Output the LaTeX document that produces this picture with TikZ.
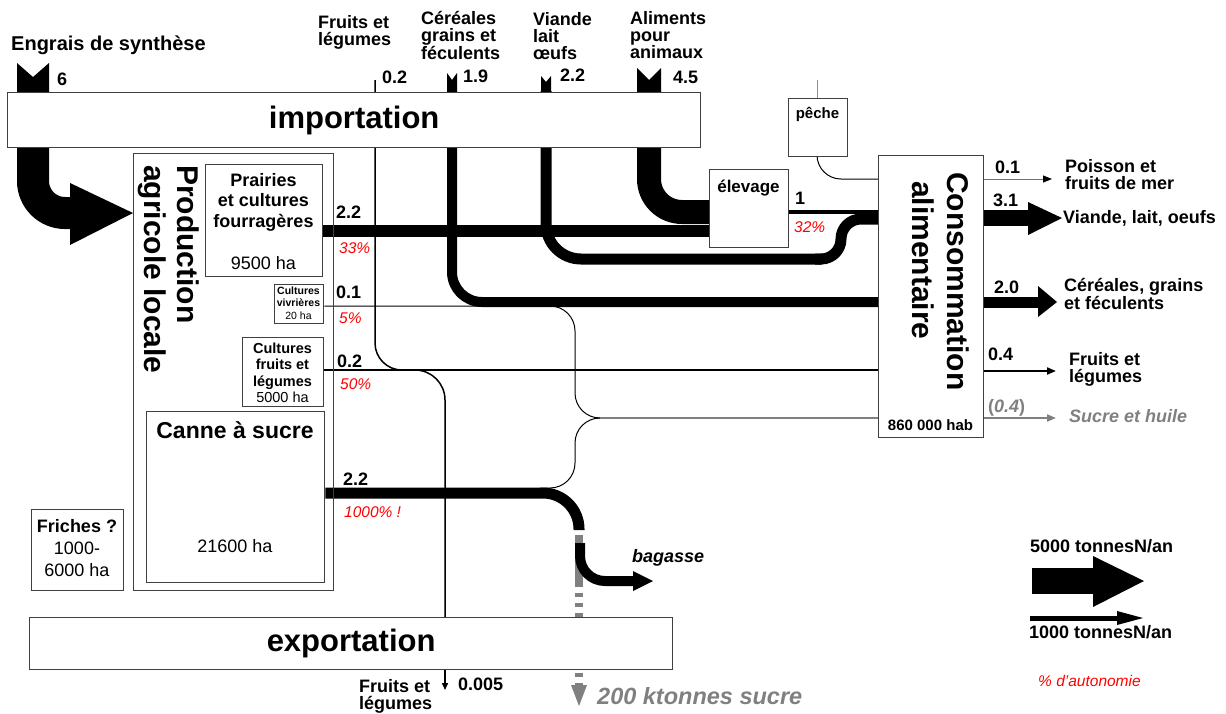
\documentclass[tikz,border=0pt]{standalone}
\usepackage{fontspec}
\setmainfont{Liberation Sans}
\usetikzlibrary{arrows.meta}
\pgfdeclarelayer{bg}
\pgfsetlayers{bg,main}
\newcommand\myfs[2]{\fontsize{#1}{#2}\selectfont}
\definecolor{gr}{RGB}{128,128,128}
\definecolor{bluel}{RGB}{110,140,220}
\begin{document}
\begin{tikzpicture}[x=1pt,y=-1pt,
  box/.style={draw=black!75, line width=1.3pt, fill=white, inner sep=0pt, anchor=north west},
  txt/.style={inner sep=0pt},
  lb/.style={txt, anchor=base west, font=\bfseries\myfs{18}{18}},
  ml/.style={txt, anchor=north west, align=left, font=\bfseries\myfs{18}{17}},
  pct/.style={txt, anchor=base west, text=red, font=\itshape\myfs{15.5}{15.5}},
  head/.style={fill=black},
  thinarrow/.style={-{Triangle[length=9pt,width=7pt]}}
]
\useasboundingbox (0,0) rectangle (1226,713);

% ---------- boxes
\node[box, minimum width=200pt, minimum height=437pt, fill=none] (prod) at (133,153) {};
\node[box, minimum width=117pt, minimum height=112pt] (prai) at (205,164) {};
\node[box, minimum width=49pt, minimum height=39pt] (vivr) at (274,284) {};
\node[box, minimum width=81pt, minimum height=69pt] (cfl) at (242,337) {};
\node[box, minimum width=178pt, minimum height=171pt] (canne) at (146,411) {};
\node[box, minimum width=92pt, minimum height=81pt] (fri) at (31,509) {};
\node[box, minimum width=79pt, minimum height=78pt] (elev) at (709,169) {};
\node[box, minimum width=59pt, minimum height=58pt] (peche) at (788,98) {};
\node[box, minimum width=105pt, minimum height=282pt] (conso) at (878,155) {};
\node[box, minimum width=693pt, minimum height=55pt] (imp) at (7,92) {};
\node[box, minimum width=643pt, minimum height=52pt] (exp) at (29,617) {};

% ---------- flows
\begin{pgfonlayer}{bg}
% engrais
\fill (17,63) -- (33,77) -- (49,63) -- (49,92) -- (17,92) -- cycle;
\draw[line width=32pt, rounded corners=32pt] (33,91) -- (33,213) -- (71,213);
\fill (70,183) -- (prod.west |- 0,213) -- (70,245) -- cycle;
% cereales
\fill (447,73) -- (452,80) -- (457,73) -- (457,92) -- (447,92) -- cycle;
\draw[line width=10pt, rounded corners=30pt] (452,91) -- (452,302) -- (conso.west |- 0,302);
% viande
\fill (541,76) -- (546,82) -- (551,76) -- (551,92) -- (541,92) -- cycle;
\draw[line width=11pt, rounded corners=35pt] (546,91) -- (546,259) -- (822,259);
\draw[line width=11pt, rounded corners=20pt] (815,259) -- (841,259) -- (841,219) -- (conso.west |- 0,219);
% aliments
\fill (637,68) -- (649,80) -- (661,68) -- (661,92) -- (637,92) -- cycle;
\draw[line width=24pt, rounded corners=33pt] (649,91) -- (649,212) -- (elev.west |- 0,212);
% prairies
\draw[line width=12pt] (prai.east |- 0,231) -- (elev.west |- 0,231);
% elevage out
\draw[line width=4pt] (elev.east |- 0,212) -- (conso.west |- 0,212);
% fruits
\draw[line width=1.5pt, rounded corners=27pt] (375,80) -- (375,370) -- (420,370);
\draw[line width=2pt] (cfl.east |- 0,370) -- (conso.west |- 0,370);
\draw[line width=1.5pt, rounded corners=30pt] (405,370) -- (445,370) -- (445,640);
\draw[line width=1.5pt, -{Triangle[length=7pt,width=6pt]}] (exp.south -| 445,0) -- (445,690);
% vivrieres + canne thin branch
\draw[line width=1pt, rounded corners=25pt] (vivr.east |- 0,306) -- (575,306) -- (575,418) -- (605,418);
\draw[line width=1pt, rounded corners=25pt] (540,488) -- (575,488) -- (575,418) -- (605,418);
\draw[line width=2pt, gr] (600,418) -- (conso.west |- 0,418);
% peche
\draw[line width=1pt, bluel] (817,80) -- (peche.north -| 817,0);
\draw[line width=1pt, rounded corners=24pt] (peche.south -| 817,0) -- (817,179) -- (conso.west |- 0,179);
% canne band
\draw[line width=11pt, rounded corners=36pt] (canne.east |- 0,493) -- (579,493) -- (579,530);
% sucre
\draw[line width=8pt, gr] (579,535) -- (579,583);
\draw[line width=8pt, gr, dash pattern=on 4pt off 6pt] (579,583) -- (579,686);
\fill[gr] (571,685) -- (587,685) -- (579,706) -- cycle;
% bagasse
\draw[line width=10pt, rounded corners=25pt] (580,543) -- (580,581) -- (634,581);
\fill (633,571) -- (653,581) -- (633,591) -- cycle;
% outputs
\draw[line width=1pt, black!55, -{Triangle[length=9pt,width=7pt,black]}] (conso.east |- 0,179) -- (1052,179);
\draw[line width=16pt] (conso.east |- 0,218) -- (1029,218);
\fill (1028,202) -- (1062,218) -- (1028,235) -- cycle;
\draw[line width=11pt] (conso.east |- 0,302) -- (1039,302);
\fill (1038,286) -- (1057,302) -- (1038,317) -- cycle;
\draw[line width=2pt, thinarrow] (conso.east |- 0,371) -- (1056,371);
\draw[line width=2pt, gr, thinarrow] (conso.east |- 0,418) -- (1056,418);
% legend
\draw[line width=26pt] (1032,581) -- (1094,581);
\fill (1093,556) -- (1144,581) -- (1093,607) -- cycle;
\draw[line width=5pt] (1030,618) -- (1118,618);
\fill (1117,611) -- (1143,618) -- (1117,625) -- cycle;
\end{pgfonlayer}

% ---------- texts
\node[txt, font=\bfseries\myfs{31}{31}] (impt) at (imp.center) {importation};
\node[txt, font=\bfseries\myfs{31}{31}] (expt) at (exp.center) {exportation};
\node[txt, rotate=-90, anchor=north west, align=left, font=\bfseries\myfs{30}{33}] (prodt) at (199,165) {Production\\agricole locale};
\node[txt, rotate=-90, anchor=north west, align=left, font=\bfseries\myfs{30}{35}] (consot) at (969,172) {Consommation\\\hspace*{9pt}alimentaire};
\node[txt, anchor=north, align=center, font=\bfseries\myfs{18}{20.5}] (prait) at (263.5,173) {Prairies\\et cultures\\fourragères};
\node[txt, anchor=base, font=\myfs{18}{18}] (praih) at (263.5,269) {9500 ha};
\node[txt, anchor=north, align=center, font=\bfseries\myfs{10.5}{12.5}] (vivrt) at (298.5,286.5) {Cultures\\vivrières};
\node[txt, anchor=base, font=\myfs{10.5}{10.5}] (vivrh) at (298.5,319) {20 ha};
\node[txt, anchor=north, align=center, font=\bfseries\myfs{14.5}{16.5}] (cflt) at (282.5,342.5) {Cultures\\fruits et\\légumes};
\node[txt, anchor=base, font=\myfs{14.5}{14.5}] (cflh) at (282.5,402) {5000 ha};
\node[txt, anchor=base, font=\bfseries\myfs{23}{23}] (cannet) at (235,438) {Canne à sucre};
\node[txt, anchor=base, font=\myfs{18}{18}] (canneh) at (235,552) {21600 ha};
\node[txt, anchor=north, align=center, font=\myfs{18}{22}] (frit) at (77,519) {\textbf{Friches ?}\\1000-\\6000 ha};
\node[txt, anchor=base, font=\bfseries\myfs{17}{17}] (elevt) at (748.5,192) {élevage};
\node[txt, anchor=base, font=\bfseries\myfs{15}{15}] (pechet) at (817.5,118) {pêche};
\node[txt, anchor=base, font=\bfseries\myfs{15}{15}] (habt) at (930.5,430) {860 000 hab};

% top labels
\node[txt, anchor=base west, font=\bfseries\myfs{20}{20}] (engt) at (11,50) {Engrais de synthèse};
\node[ml] (t1) at (318,15) {Fruits et\\légumes};
\node[ml] (t2) at (421,11.5) {Céréales\\grains et\\féculents};
\node[ml] (t3) at (533,12) {Viande\\lait\\œufs};
\node[ml] (t4) at (630,11) {Aliments\\pour\\animaux};
\node[lb] (n1) at (57,85) {6};
\node[lb] (n2) at (382,83) {0.2};
\node[lb] (n3) at (463,82) {1.9};
\node[lb] (n4) at (560,81) {2.2};
\node[lb] (n5) at (673,83) {4.5};

% flow labels
\node[lb] (v1) at (336,218) {2.2};
\node[pct] (p1) at (339,253) {33\%};
\node[lb] (v2) at (336,298) {0.1};
\node[pct] (p2) at (339,323) {5\%};
\node[lb] (v3) at (337,367) {0.2};
\node[pct] (p3) at (340,389) {50\%};
\node[lb] (v4) at (343,485) {2.2};
\node[pct] (p4) at (344,517) {1000\% !};
\node[lb] (v5) at (795,204) {1};
\node[pct] (p5) at (794,232) {32\%};
\node[lb] (o1) at (995,173) {0.1};
\node[lb] (o2) at (993,206) {3.1};
\node[lb] (o3) at (994,293) {2.0};
\node[lb] (o4) at (988,360) {0.4};
\node[lb, text=gr] (o5) at (988,412) {(\textit{0.4})};
\node[ml] (r1) at (1065,159) {Poisson et\\fruits de mer};
\node[lb] (r2) at (1063,223) {Viande, lait, oeufs};
\node[ml] (r3) at (1064,278.5) {Céréales, grains\\et féculents};
\node[ml] (r4) at (1069,352) {Fruits et\\légumes};
\node[lb, text=gr, font=\bfseries\itshape\myfs{18}{18}] (r5) at (1069,422) {Sucre et huile};

% bottom
\node[ml] (b1) at (359,679) {Fruits et\\légumes};
\node[lb] (b2) at (458,690) {0.005};
\node[lb, font=\bfseries\itshape\myfs{18}{18}] (bag) at (632,562) {bagasse};
\node[lb, text=gr, font=\bfseries\itshape\myfs{23.5}{23.5}] (suc) at (597,704) {200 ktonnes sucre};

% legend
\node[lb] (l1) at (1030,552) {5000 tonnesN/an};
\node[lb] (l2) at (1029,638) {1000 tonnesN/an};
\node[pct] (l3) at (1038,686) {\% d’autonomie};
\end{tikzpicture}
\end{document}
